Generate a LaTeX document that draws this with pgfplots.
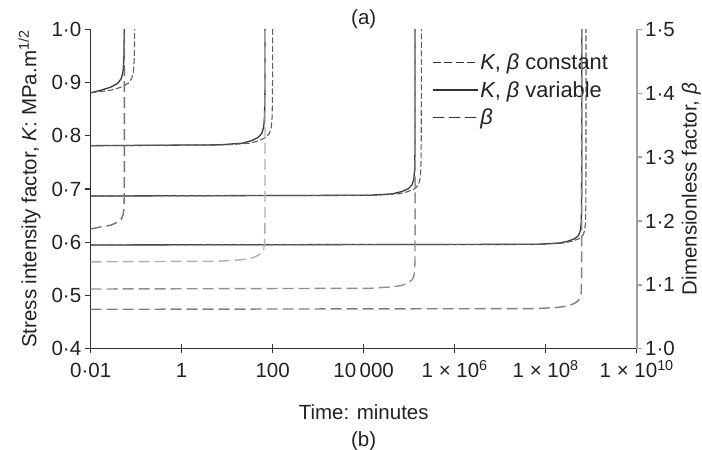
\documentclass[border=0pt]{standalone}
\usepackage{fontspec}
\setmainfont{Liberation Sans}
\usepackage{pgfplots}
\pgfplotsset{compat=1.18}
\newcommand{\fs}{\fontsize{20.5}{27}\selectfont}
\newcommand{\fl}{\fontsize{21.8}{27}\selectfont}
\definecolor{txt}{HTML}{222222}
\definecolor{axc}{HTML}{333333}
\definecolor{raxc}{HTML}{A0A0A0}
\definecolor{solidc}{HTML}{3A3A3A}
\definecolor{constc}{HTML}{606060}
\definecolor{bA}{HTML}{707070}
\definecolor{bB}{HTML}{B0B0B0}
\definecolor{bC}{HTML}{909090}
\definecolor{bD}{HTML}{808080}
\pgfplotsset{
  varK/.style={solidc, line width=1.3pt, line join=round},
  conK/.style={constc, line width=1.1pt, dash pattern=on 6pt off 2.5pt, line join=round},
  betaL/.style={line width=1.4pt, dash pattern=on 11pt off 5pt, line join=round},
}
\begin{document}
\begin{tikzpicture}
% left y axis
\begin{axis}[at={(0,0)}, anchor=south west, scale only axis, width=546pt, height=319.2pt,
  xmode=log, xmin=1e-2, xmax=1e10, xminorticks=false, yminorticks=false,
  tick label style={font=\fs, text=txt}, label style={font=\fs, text=txt},
  ymin=0.4, ymax=1.0, hide x axis, axis y line*=left,
  axis line style={-, draw=axc, line width=1.2pt}, tick style={axc, line width=1.2pt},
  tick align=outside, major tick length=6pt,
  ytick={0.4,0.5,0.6,0.7,0.8,0.9,1.0},
  yticklabels={0·4,0·5,0·6,0·7,0·8,0·9,1·0},
  ylabel={Stress intensity factor, \textit{K}: MPa.m\textsuperscript{1/2}},
  ylabel style={yshift=4pt}]
\addplot[draw=none, forget plot] coordinates {(1,0.5)};
\end{axis}
% main axis with K curves and x axis
\begin{axis}[at={(0,0)}, anchor=south west, scale only axis, width=546pt, height=319.2pt,
  xmode=log, xmin=1e-2, xmax=1e10, xminorticks=false, yminorticks=false,
  tick label style={font=\fs, text=txt}, label style={font=\fs, text=txt},
  ymin=0.4, ymax=1.0, hide y axis, axis x line*=bottom,
  axis line style={-, draw=axc, line width=1.2pt}, tick style={axc, line width=1.2pt},
  tick align=center, major tick length=9pt,
  xtick={1e-2,1,1e2,1e4,1e6,1e8,1e10},
  xticklabels={0·01,1,100,10\,000,1 × 10\textsuperscript{6},1 × 10\textsuperscript{8},1 × 10\textsuperscript{10}},
  xticklabel style={text height=16pt, text depth=4pt, yshift=-5pt},
  xlabel={Time: minutes\\(b)}, xlabel style={align=center, yshift=-16pt},
  title={(a)}, title style={font=\fs, text=txt, at={(0.5,1)}, anchor=south, inner sep=0pt, yshift=-5pt},
  legend style={at={(0.625,0.93)}, anchor=north west, draw=none, fill=none, font=\fl, text=txt,
    row sep=6pt, inner sep=0pt, cells={anchor=west}},
  legend image code/.code={\draw[#1] (0pt,0pt) -- (45pt,0pt);},
  ]
\addlegendimage{black!80, line width=1.0pt, dash pattern=on 8pt off 3.5pt}
\addlegendentry{\textit{K}, \textit{β} constant}
\addlegendimage{black!80, line width=1.1pt}
\addlegendentry{\textit{K}, \textit{β} variable}
\addlegendimage{black!80, line width=1.0pt, dash pattern=on 11pt off 5pt}
\addlegendentry{\textit{β}}
% set 1
\addplot[varK, forget plot] coordinates {(0.01,0.881) (0.01739,0.8863) (0.02757,0.8916) (0.03893,0.8986) (0.04681,0.9074) (0.05133,0.9206) (0.0535,0.9427) (0.05449,0.9867) (0.05487,1.101) (0.054975,1.586)};
\addplot[conK, forget plot] coordinates {(0.01,0.881) (0.02941,0.8863) (0.04661,0.8916) (0.06583,0.8986) (0.07915,0.9074) (0.0868,0.9206) (0.09046,0.9427) (0.09214,0.9867) (0.09279,1.101) (0.09296,1.586)};
% set 2
\addplot[varK, forget plot] coordinates {(0.01,0.7816) (6.8,0.7832) (21.50,0.7863) (34.08,0.7910) (48.14,0.7972) (57.87,0.8050) (63.46,0.8168) (66.14,0.8363) (67.37,0.8754) (67.84,0.977) (67.97,1.4069)};
\addplot[conK, forget plot] coordinates {(0.01,0.7816) (10,0.7832) (31.62,0.7863) (50.12,0.7910) (70.79,0.7972) (85.11,0.8050) (93.33,0.8168) (97.27,0.8363) (99.08,0.8754) (99.77,0.977) (99.954,1.4069)};
% set 3
\addplot[varK, forget plot] coordinates {(0.01,0.687) (13500,0.6884) (42690,0.6911) (67660,0.6952) (95570,0.7007) (114900,0.7076) (126000,0.7179) (131300,0.7351) (133760,0.7694) (134690,0.8588) (134940,1.2366)};
\addplot[conK, forget plot] coordinates {(0.01,0.687) (18500,0.6884) (58500,0.6911) (92720,0.6952) (130960,0.7007) (157450,0.7076) (172660,0.7179) (179950,0.7351) (183300,0.7694) (184570,0.8588) (184915,1.2366)};
% set 4
\addplot[varK, forget plot] coordinates {(0.01,0.595) (6.2e7,0.5962) (1.9606e8,0.5986) (3.1074e8,0.6021) (4.389e8,0.6069) (5.2768e8,0.6129) (5.7865e8,0.6218) (6.0307e8,0.6367) (6.143e8,0.6664) (6.1857e8,0.7438) (6.1971e8,1.071)};
\addplot[conK, forget plot] coordinates {(0.01,0.595) (7.7e7,0.5962) (2.4349e8,0.5986) (3.8592e8,0.6021) (5.4508e8,0.6069) (6.5535e8,0.6129) (7.1864e8,0.6218) (7.4898e8,0.6367) (7.6294e8,0.6664) (7.6823e8,0.7438) (7.6965e8,1.071)};
\end{axis}
% right axis with beta
\begin{axis}[at={(0,0)}, anchor=south west, scale only axis, width=546pt, height=319.2pt,
  xmode=log, xmin=1e-2, xmax=1e10, xminorticks=false, yminorticks=false,
  tick label style={font=\fs, text=txt}, label style={font=\fs, text=txt},
  ymin=1.0, ymax=1.5, hide x axis, axis y line*=right,
  axis line style={-, draw=raxc, line width=1.6pt}, tick style={raxc, line width=1.4pt},
  tick align=outside, major tick length=5pt,
  ytick={1.0,1.1,1.2,1.3,1.4,1.5},
  yticklabels={1·0,1·1,1·2,1·3,1·4,1·5},
  ylabel={Dimensionless factor, \textit{β}}]
\addplot[betaL, bA] coordinates {(0.01,1.1875) (0.01739,1.1911) (0.02757,1.1934) (0.03893,1.1982) (0.04681,1.2029) (0.05133,1.2089) (0.0535,1.2172) (0.05449,1.235) (0.05487,1.2825) (0.054975,1.722)};
\addplot[betaL, bB] coordinates {(0.01,1.136) (6.8,1.1371) (21.50,1.1394) (34.08,1.1417) (48.14,1.1462) (57.87,1.1508) (63.46,1.1564) (66.14,1.1644) (67.37,1.1814) (67.84,1.2269) (67.97,1.6472)};
\addplot[betaL, bC] coordinates {(0.01,1.0935) (13500,1.0946) (42690,1.0968) (67660,1.0990) (95570,1.1033) (114900,1.1077) (126000,1.1132) (131300,1.1208) (133760,1.1372) (134690,1.1810) (134940,1.5856)};
\addplot[betaL, bD] coordinates {(0.01,1.0617) (6.2e7,1.0628) (1.9606e8,1.0649) (3.1074e8,1.0670) (4.389e8,1.0713) (5.2768e8,1.0755) (5.7865e8,1.0808) (6.0307e8,1.0882) (6.143e8,1.1042) (6.1857e8,1.1466) (6.1971e8,1.5395)};
\end{axis}
\pgfresetboundingbox
\path (-90.7pt,-101.3pt) rectangle (611.3pt,348.7pt);
\end{tikzpicture}
\end{document}
